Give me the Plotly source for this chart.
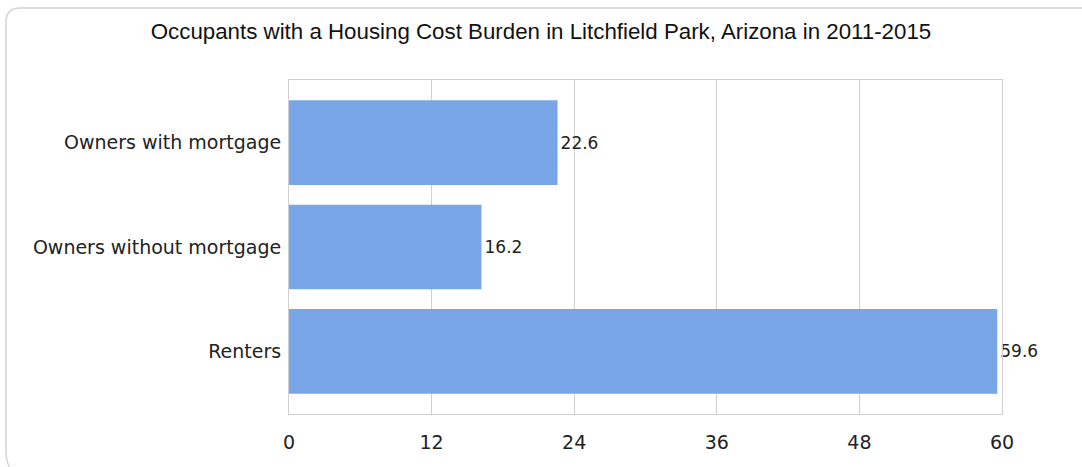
import plotly.graph_objects as go

categories = ["Owners with mortgage", "Owners without mortgage", "Renters"]
values = [22.6, 16.2, 59.6]
tick_vals = [0, 12, 24, 36, 48, 60]
title = "Occupants with a Housing Cost Burden in Litchfield Park, Arizona in 2011-2015"

W, H = 1082, 467
L, R, T, B = 289, 80, 80, 53
pw, ph = W - L - R, H - T - B

def px(x):
    return (x - L) / pw

def py(y):
    return (H - B - y) / ph

fig = go.Figure(go.Bar(
    y=categories, x=values, orientation="h",
    marker=dict(color="#79a6e6", line=dict(width=0)),
    text=[f"{v}" for v in values], textposition="outside",
    textfont=dict(family="DejaVu Sans", size=17, color="#222"),
    cliponaxis=False, width=0.81,
))

r = 14
card = (f"M {px(1100)},{py(8)} L {px(6+r)},{py(8)} Q {px(6)},{py(8)} {px(6)},{py(8+r)} "
        f"L {px(6)},{py(452)} Q {px(6)},{py(462)} {px(11)},{py(470)}")

fig.update_layout(
    width=W, height=H,
    margin=dict(l=L, r=R, t=T, b=B),
    paper_bgcolor="white", plot_bgcolor="white",
    showlegend=False,
    title=dict(text=title, x=0.5, xref="container", xanchor="center", y=1 - 31 / H, yanchor="middle",
               font=dict(family="Liberation Sans, Arial", size=22.3, color="#111")),
    xaxis=dict(range=[0, 60], tickvals=tick_vals, showgrid=True, gridcolor="#d0d0d0", gridwidth=1,
               showline=True, linecolor="#d0d0d0", mirror=True, zeroline=False,
               ticks="outside", ticklen=11, tickcolor="rgba(0,0,0,0)",
               tickfont=dict(family="DejaVu Sans", size=19, color="#222")),
    yaxis=dict(categoryorder="array", categoryarray=categories[::-1], range=[-0.6, 2.6],
               showgrid=False, showline=True, linecolor="#d0d0d0", mirror=True,
               ticks="outside", ticklen=3, tickcolor="rgba(0,0,0,0)",
               tickfont=dict(family="DejaVu Sans", size=19, color="#222")),
    shapes=[dict(type="path", path=card, xref="paper", yref="paper",
                 line=dict(color="#d4d4d4", width=1.5), layer="below")],
)
fig.write_html("out.html", config={"displayModeBar": False},
               post_script="document.body.style.margin='0';document.body.style.overflow='hidden';")
